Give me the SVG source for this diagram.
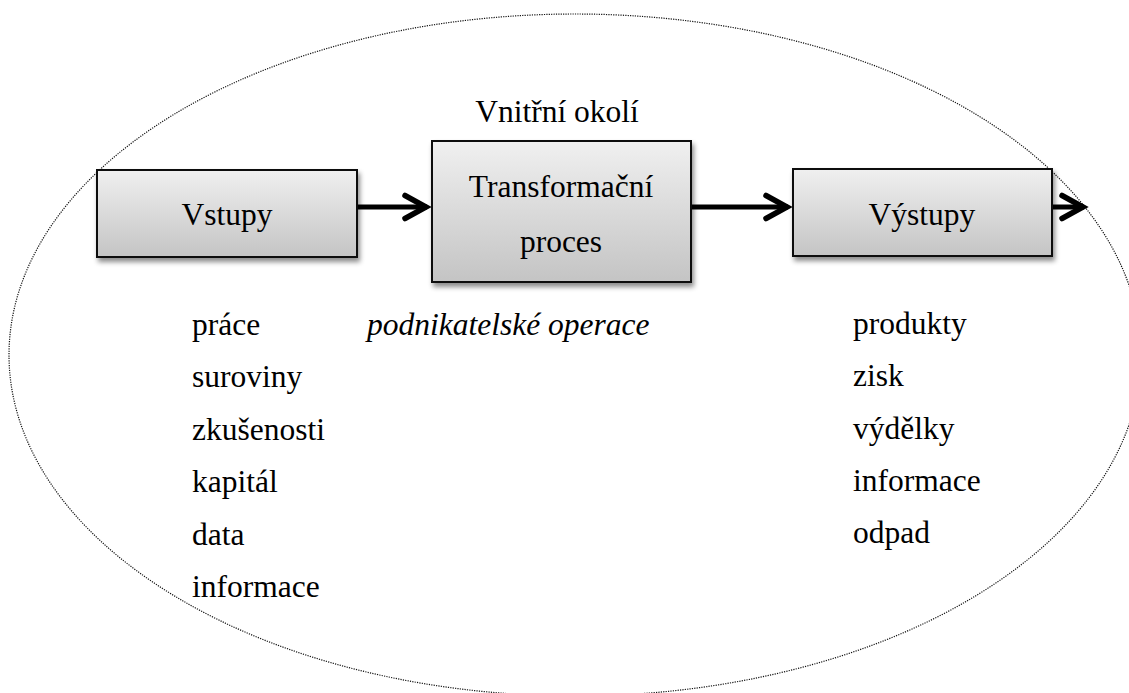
<svg xmlns="http://www.w3.org/2000/svg" width="1129" height="693" viewBox="0 0 1129 693">
<style>
  text { font-family: "Liberation Serif", "Times New Roman", serif; font-size: 31.5px; fill: #000; }
  .c { text-anchor: middle; }
  .it { font-style: italic; }
  .box { fill: url(#boxGrad); stroke: #111; stroke-width: 2; filter: url(#shadow); }
  .conn { stroke: #000; stroke-width: 5; fill: none; marker-end: url(#chev); }
  .env { fill: none; stroke: #111; stroke-width: 1.2; stroke-dasharray: 1.2 1.2; }
</style>
<defs>
  <linearGradient id="boxGrad" x1="0" y1="0" x2="0" y2="1">
    <stop offset="0" stop-color="#f0f0f0"/>
    <stop offset="1" stop-color="#c4c4c4"/>
  </linearGradient>
  <filter id="shadow" x="-10%" y="-10%" width="125%" height="130%">
    <feDropShadow dx="2" dy="4" stdDeviation="2.5" flood-color="#000" flood-opacity="0.45"/>
  </filter>
  <marker id="chev" markerUnits="userSpaceOnUse" markerWidth="40" markerHeight="40" refX="0" refY="0" viewBox="-30 -20 40 40" orient="auto" overflow="visible">
    <path d="M -22 -11.5 L -1 0 L -22 11.5" fill="none" stroke="#000" stroke-width="5.5" stroke-linecap="round" stroke-linejoin="miter"/>
  </marker>
</defs>
<rect width="1129" height="693" fill="#fff"/>
<g id="environment">
  <ellipse class="env" cx="575" cy="355" rx="566" ry="341"/>
  <text class="c" x="557" y="122">Vnitřní okolí</text>
</g>
<g id="connectors">
  <line class="conn" x1="358" y1="207" x2="427" y2="207"/>
  <line class="conn" x1="692" y1="207" x2="788" y2="207"/>
  <line class="conn" x1="1053" y1="207" x2="1084" y2="207"/>
</g>
<g id="vstupy">
  <rect class="box" x="97" y="170" width="260" height="87"/>
  <text class="c" x="227" y="225">Vstupy</text>
</g>
<g id="transformacni-proces">
  <rect class="box" x="432" y="141" width="259" height="141"/>
  <text class="c" x="561" y="197">Transformační</text>
  <text class="c" x="561" y="252">proces</text>
</g>
<g id="vystupy">
  <rect class="box" x="793" y="169" width="259" height="87"/>
  <text class="c" x="922" y="225">Výstupy</text>
</g>
<g id="inputs-list">
  <text x="192" y="335">práce</text>
  <text x="192" y="387">suroviny</text>
  <text x="192" y="440">zkušenosti</text>
  <text x="192" y="492">kapitál</text>
  <text x="192" y="545">data</text>
  <text x="192" y="597">informace</text>
</g>
<g id="operations">
  <text class="it" x="367" y="335">podnikatelské operace</text>
</g>
<g id="outputs-list">
  <text x="853" y="334">produkty</text>
  <text x="853" y="386">zisk</text>
  <text x="853" y="439">výdělky</text>
  <text x="853" y="491">informace</text>
  <text x="853" y="543">odpad</text>
</g>
</svg>
